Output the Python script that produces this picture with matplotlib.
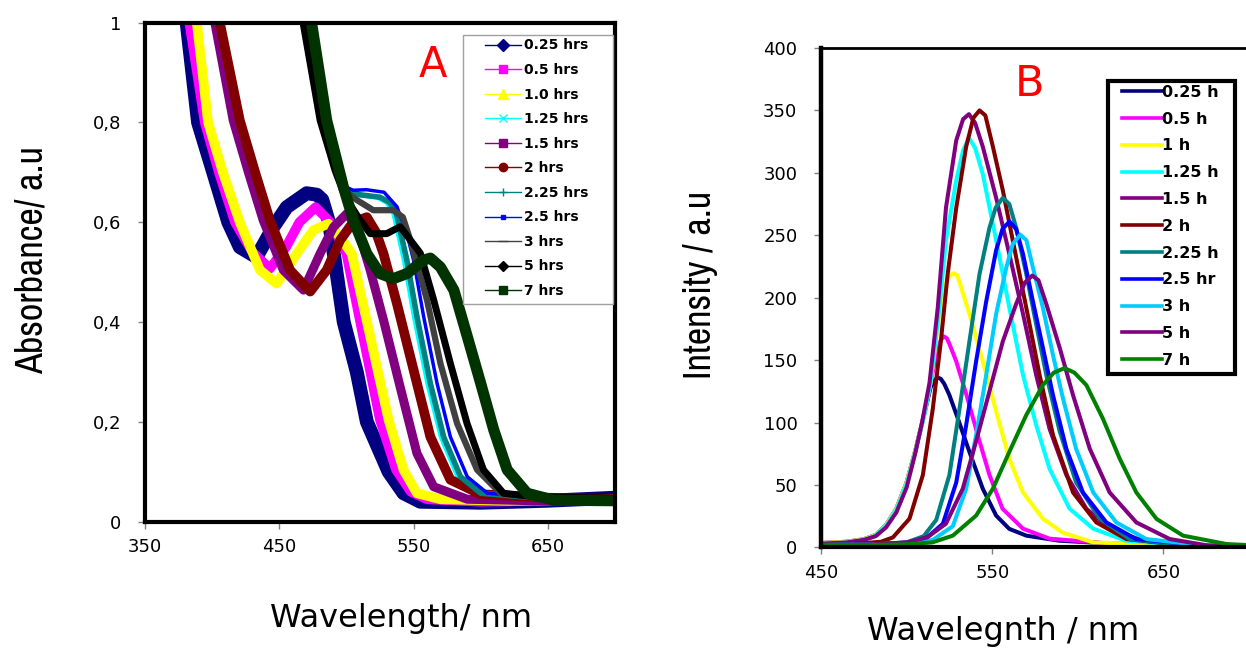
import matplotlib
matplotlib.use("Agg")
import matplotlib.pyplot as plt
from matplotlib.lines import Line2D
from matplotlib.patches import Rectangle
from matplotlib import font_manager

# ------------------------- data: panel A (absorbance) -------------------------
A_LABELS = ["0.25 hrs", "0.5 hrs", "1.0 hrs", "1.25 hrs", "1.5 hrs", "2 hrs",
            "2.25 hrs", "2.5 hrs", "3 hrs", "5 hrs", "7 hrs"]

a_wl_025 = [378, 381, 389.5, 400, 412, 420.6, 433, 445.5, 455.5, 470.4, 478, 482, 487, 491, 498,
            507.7, 515.2, 531.4, 542.5, 555, 600, 650, 700]
a_ab_025 = [1.05, 1.0, 0.80, 0.707, 0.60, 0.55, 0.53, 0.59, 0.63, 0.658, 0.655, 0.645, 0.60, 0.53, 0.40,
            0.30, 0.20, 0.10, 0.057, 0.04, 0.038, 0.042, 0.048]
a_wl_05 = [380, 383, 394.5, 405, 417, 430, 443, 455, 465, 477, 488, 500, 510, 525, 537, 548, 560, 600, 650, 700]
a_ab_05 = [1.04, 1.0, 0.80, 0.70, 0.60, 0.54, 0.507, 0.55, 0.60, 0.63, 0.60, 0.537, 0.404, 0.204, 0.104,
           0.06, 0.045, 0.04, 0.042, 0.045]
a_wl_10 = [385, 388.6, 397, 408, 420.6, 435.6, 448, 463, 475.4, 486.6, 495.3, 504, 515, 531.4, 542.5,
           552.5, 570, 620, 700]
a_ab_10 = [1.04, 1.0, 0.80, 0.70, 0.60, 0.504, 0.477, 0.537, 0.584, 0.597, 0.57, 0.537, 0.404, 0.204,
           0.104, 0.057, 0.045, 0.042, 0.045]
a_wl_125 = [465, 467, 481, 491, 499, 509, 523, 530, 535, 543, 550.5, 560.5, 570.5, 583, 598, 640, 700]
a_ab_125 = [1.04, 1.0, 0.80, 0.704, 0.665, 0.655, 0.65, 0.64, 0.62, 0.524, 0.411, 0.277, 0.17, 0.09,
            0.057, 0.048, 0.045]
a_wl_15 = [399, 402, 415.7, 427, 438, 453, 468, 480.4, 490.3, 500.3, 508, 517.7, 527.6, 540, 552.5,
           565, 590, 640, 700]
a_ab_15 = [1.04, 1.0, 0.804, 0.70, 0.604, 0.504, 0.464, 0.537, 0.59, 0.617, 0.59, 0.504, 0.404, 0.27,
           0.137, 0.07, 0.045, 0.042, 0.045]
a_wl_2 = [403, 405.7, 420.6, 432, 443, 458, 473, 485.3, 495.3, 505, 515.2, 522, 527.6, 537.6, 550,
          562.5, 577.4, 600, 650, 700]
a_ab_2 = [1.04, 1.0, 0.804, 0.70, 0.604, 0.504, 0.461, 0.504, 0.564, 0.60, 0.61, 0.58, 0.537, 0.437,
          0.304, 0.17, 0.084, 0.055, 0.048, 0.045]
a_wl_225 = [466, 468, 482, 492, 500, 510, 525, 532, 537, 545, 552.5, 562.5, 572.4, 585, 600, 640, 700]
a_ab_225 = [1.04, 1.0, 0.80, 0.704, 0.665, 0.655, 0.65, 0.64, 0.62, 0.524, 0.411, 0.277, 0.17, 0.09,
            0.057, 0.048, 0.045]
a_wl_25 = [467, 469, 482, 493, 500, 505, 515, 528, 537.6, 545, 550, 557.5, 567.5, 577.4, 590, 605, 640, 700]
a_ab_25 = [1.04, 1.0, 0.80, 0.704, 0.67, 0.664, 0.665, 0.66, 0.631, 0.577, 0.524, 0.411, 0.277, 0.17,
           0.09, 0.057, 0.05, 0.048]
a_wl_3 = [466, 468, 482, 492, 500, 508, 520, 535, 542, 547.5, 560, 570, 582.4, 597.3, 614.7, 640, 700]
a_ab_3 = [1.04, 1.0, 0.80, 0.704, 0.66, 0.644, 0.624, 0.624, 0.61, 0.565, 0.444, 0.317, 0.197, 0.104,
          0.057, 0.05, 0.047]
a_wl_5 = [466, 467.7, 480.4, 491.5, 499, 510.2, 517.7, 530, 540, 555, 565, 577.4, 589.8, 602, 617, 640, 700]
a_ab_5 = [1.04, 1.0, 0.804, 0.704, 0.651, 0.604, 0.577, 0.577, 0.591, 0.538, 0.444, 0.317, 0.197,
          0.104, 0.057, 0.05, 0.047]
a_wl_7 = [471, 474, 485.3, 497.8, 505.2, 515.2, 525, 535, 545, 557.5, 562.5, 570, 580, 590, 600, 609.7,
          619.7, 634.6, 654.5, 700]
a_ab_7 = [1.04, 1.0, 0.804, 0.67, 0.604, 0.537, 0.497, 0.487, 0.497, 0.524, 0.528, 0.51, 0.464, 0.371,
          0.277, 0.184, 0.104, 0.057, 0.043, 0.042]

A_X_TICKS = [350, 450, 550, 650]
A_Y_TICKS = [0, 0.2, 0.4, 0.6, 0.8, 1.0]
A_Y_TICKLABELS = ["0", "0,2", "0,4", "0,6", "0,8", "1"]

# ------------------------- data: panel B (emission) -------------------------
B_LABELS = ["0.25 h", "0.5 h", "1 h", "1.25 h", "1.5 h", "2 h", "2.25 h", "2.5 hr", "3 h", "5 h", "7 h"]

b_wl_025 = [450, 465, 475, 482, 488, 494, 500, 505, 510, 514, 516.5, 518.2, 520, 522, 525, 530, 536.7,
            544.5, 552.3, 560, 570, 589, 620, 660, 700]
b_in_025 = [3.5, 4.5, 6.5, 10, 18, 31, 52, 77, 105, 128, 134, 136, 135, 131, 122, 103, 76.5, 47, 25.5,
            14.8, 9.4, 5.4, 3, 2, 1.5]
b_wl_05 = [450, 465, 475, 482, 488, 494, 500, 505, 510, 514, 518, 520, 521.7, 523.5, 525, 529, 535, 542.6,
           548.4, 556, 568, 583.5, 620, 660, 700]
b_in_05 = [3.5, 4.5, 6.5, 10, 18, 31, 52, 77, 105, 132, 158, 166, 169, 167.5, 163, 149, 122, 85, 58, 31,
           15, 7, 3, 2, 1.5]
b_wl_1 = [450, 465, 475, 482, 488, 494, 500, 505, 510, 514, 519, 523, 525.5, 527.6, 529.5, 531, 536.7,
          544.5, 552.3, 560, 568, 579.6, 591, 609, 650, 700]
b_in_1 = [3.5, 4.5, 6.5, 10, 18, 31, 52, 77, 105, 132, 185, 212, 218, 219.6, 218, 212, 187, 149, 109, 71,
          44, 23, 12, 4, 2, 1.5]
b_wl_125 = [450, 465, 475, 482, 488, 494, 500, 505, 510, 514, 519.2, 523, 529, 533, 536.4, 540, 544.5,
            552.3, 560, 568, 575.7, 583.5, 595.2, 609, 628, 660, 700]
b_in_125 = [3, 4, 6, 9.5, 17.5, 30, 51, 76, 104, 132, 192, 246, 294, 318, 328, 320, 299, 246, 192, 138,
            98, 63, 31, 15, 5.4, 2, 1]
b_wl_15 = [450, 465, 475, 482, 488, 494, 500, 505, 509, 513.4, 518.2, 523, 529, 533, 536.4, 540, 544.5,
           552.3, 560, 568, 575.7, 583.5, 593.3, 605, 618.6, 638, 670, 700]
b_in_15 = [3, 4, 6, 9, 16, 28, 48, 75, 100, 132, 192, 272, 326, 343, 347, 340, 321, 280, 235, 187, 138,
           95, 58, 31, 15, 5.4, 2, 1]
b_wl_2 = [450, 470, 485, 492, 501.7, 509.5, 515.3, 520, 524, 529, 534.8, 539, 542.6, 546, 550.4, 556.2,
          562, 569.9, 577.7, 585.5, 597.2, 610.8, 628.4, 660, 700]
b_in_2 = [2.5, 3, 4.5, 8, 23, 58, 111, 165, 219, 272, 321, 344, 350, 346, 321, 286, 246, 192, 138, 90,
          44, 20, 6.7, 2, 1]
b_wl_225 = [450, 480, 500, 510, 517.3, 525, 530.9, 536.7, 542.6, 548.4, 552, 556.2, 560, 564, 569.9,
            575.7, 581.6, 589.4, 599, 612.8, 630.3, 660, 700]
b_in_225 = [2, 2.5, 4, 9, 22, 58, 111, 165, 219, 256, 272, 280, 275, 256, 219, 178.5, 138, 93, 52, 23,
            6.7, 2, 1]
b_wl_25 = [450, 480, 503, 512, 521.2, 529, 534.8, 540.6, 546.5, 552.3, 556, 560.1, 564, 568, 573.8,
           579.6, 585.5, 593.3, 603, 616.7, 634, 670, 700]
b_in_25 = [2, 2.5, 4, 8, 19, 52, 98, 149, 197, 238, 255, 261, 255, 235, 197, 160, 122, 79, 44, 20, 6.7,
           2, 1]
b_wl_3 = [450, 480, 505, 515.3, 527, 534.8, 540.6, 546.5, 552.3, 558.2, 562, 566.4, 570, 573.8, 579.6,
          585.5, 591.3, 599, 609, 622.5, 640, 670, 700]
b_in_3 = [2, 2.5, 3.5, 6, 17, 47, 90, 138, 187, 224, 243, 250.5, 246, 224, 192, 154, 119.5, 79, 44, 20,
          6.7, 2, 1]
b_wl_5 = [450, 480, 500, 512, 523, 532.8, 540.6, 548.4, 556.2, 564, 569, 573.4, 577, 581.6, 589.4, 597.2,
          607, 618.6, 634.2, 653.7, 677, 700]
b_in_5 = [2, 2.5, 4, 8, 19, 47, 85, 125, 165, 195, 212, 217.7, 214, 195, 160, 122, 79, 44, 20, 6.7, 1.3,
          0.8]
b_wl_7 = [450, 480, 500, 515, 527, 540.6, 550.4, 560, 569.9, 579.6, 586, 592.3, 598, 605, 614.7, 624.5,
          634.2, 646, 661.5, 686.8, 700]
b_in_7 = [2, 2, 2.5, 4, 9.4, 25.5, 47, 76.5, 106, 130, 140, 143.6, 140, 130, 103, 71, 44, 22.8, 9.4,
          2.7, 1.8]

B_X_TICKS = [450, 550, 650]
B_Y_TICKS = [0, 50, 100, 150, 200, 250, 300, 350, 400]

# ------------------------- style -------------------------
A_COLORS = ["#000080", "#FF00FF", "#FFFF00", "#00FFFF", "#800080", "#800000",
            "#008080", "#0000FF", "#404040", "#000000", "#003300"]
A_MARKERS = ["D", "s", "^", "x", "s", "o", "+", "s", "_", "D", "s"]
A_MSIZE = [6, 6, 7, 6, 6, 6, 6, 3, 7, 5, 6]
A_WIDTHS = [10, 7, 7, 3.5, 6.5, 7, 4, 2.5, 4.5, 5, 8]

B_COLORS = ["#000080", "#FF00FF", "#FFFF00", "#00FFFF", "#800080", "#800000",
            "#008080", "#0000FF", "#00CCFF", "#800080", "#008000"]

# condensed face for the vertical titles if one is installed
narrow_path = None
for f in font_manager.fontManager.ttflist:
    if "Narrow" in f.name or "Condensed" in f.fname and f.name in ("Liberation Sans", "DejaVu Sans"):
        if f.weight in (400, "normal", "regular") and f.style == "normal":
            narrow_path = f.fname
            if "Narrow" in f.name:
                break
if narrow_path:
    YLAB_FONT = dict(fontproperties=font_manager.FontProperties(fname=narrow_path, size=27.5))
else:
    YLAB_FONT = dict(family="Liberation Sans", fontsize=23)
WIDE = "DejaVu Sans"

W, H = 1246, 648
fig = plt.figure(figsize=(W / 100, H / 100), dpi=100)


def px_axes(left, right, top, bottom):
    return [left / W, 1 - bottom / H, (right - left) / W, (bottom - top) / H]


axA = fig.add_axes(px_axes(145, 615, 22.5, 521.7))
axB = fig.add_axes(px_axes(821, 1249, 48, 547.4))

# ---- panel A ----
a_series = [(a_wl_025, a_ab_025), (a_wl_05, a_ab_05), (a_wl_10, a_ab_10), (a_wl_125, a_ab_125),
            (a_wl_15, a_ab_15), (a_wl_2, a_ab_2), (a_wl_225, a_ab_225), (a_wl_25, a_ab_25),
            (a_wl_3, a_ab_3), (a_wl_5, a_ab_5), (a_wl_7, a_ab_7)]
for (x, y), c, lw in zip(a_series, A_COLORS, A_WIDTHS):
    axA.plot(x, y, color=c, lw=lw, solid_capstyle="round", solid_joinstyle="round", zorder=2)

axA.set_xlim(350, 700)
axA.set_ylim(0, 1)
axA.set_xticks(A_X_TICKS)
axA.set_yticks(A_Y_TICKS)
axA.set_yticklabels(A_Y_TICKLABELS)

# ---- panel B ----
b_series = [(b_wl_025, b_in_025), (b_wl_05, b_in_05), (b_wl_1, b_in_1), (b_wl_125, b_in_125),
            (b_wl_15, b_in_15), (b_wl_2, b_in_2), (b_wl_225, b_in_225), (b_wl_25, b_in_25),
            (b_wl_3, b_in_3), (b_wl_5, b_in_5), (b_wl_7, b_in_7)]
for (x, y), c in zip(b_series, B_COLORS):
    axB.plot(x, y, color=c, lw=2.9, solid_joinstyle="round", zorder=2)

axB.set_xlim(450, 700)
axB.set_ylim(0, 400)
axB.set_xticks(B_X_TICKS)
axB.set_yticks(B_Y_TICKS)

for ax in (axA, axB):
    ax.tick_params(direction="out", length=5, width=1, color="#808080", labelsize=13, pad=7)
    ax.tick_params(axis="y", pad=12)
    for lab in ax.get_xticklabels() + ax.get_yticklabels():
        lab.set_family(WIDE)
for s in axA.spines.values():
    s.set_linewidth(3)
axB.spines["left"].set_linewidth(3.2)
axB.spines["bottom"].set_linewidth(3)
axB.spines["top"].set_linewidth(2)
axB.spines["right"].set_visible(False)

# axis labels
axA.set_ylabel("Absorbance/ a.u", **YLAB_FONT)
axA.yaxis.set_label_coords(-0.2026, 0.524)
axA.set_xlabel("Wavelength/ nm", family=WIDE, fontsize=23)
axA.xaxis.set_label_coords(0.544, -0.163)
axB.set_ylabel("Intensity / a.u", **YLAB_FONT)
axB.yaxis.set_label_coords(-0.2407, 0.525)
axB.set_xlabel("Wavelegnth / nm", family=WIDE, fontsize=23)
axB.xaxis.set_label_coords(0.425, -0.137)

axA.text(0.612, 0.915, "A", transform=axA.transAxes, color="red", fontsize=30,
         family=WIDE, ha="center", va="center")
axB.text(0.488, 0.928, "B", transform=axB.transAxes, color="red", fontsize=31,
         family=WIDE, ha="center", va="center")

# ---- legend A ----
axA.add_patch(Rectangle((0.6774, 0.4363), 0.9952 - 0.6774, 0.9753 - 0.4363, transform=axA.transAxes,
                        facecolor="white", edgecolor="#A0A0A0", lw=1, zorder=5))
handlesA = [Line2D([], [], color=c, lw=1, marker=m, ms=ms, markerfacecolor=c, markeredgecolor=c)
            for c, m, ms in zip(A_COLORS, A_MARKERS, A_MSIZE)]
legA = axA.legend(handlesA, A_LABELS, loc="upper left", bbox_to_anchor=(0.7228, 0.968),
                  frameon=False, borderpad=0, borderaxespad=0, handlelength=2.6,
                  handletextpad=0.2, labelspacing=0.76,
                  prop={"family": WIDE, "weight": "bold", "size": 10})
legA.set_zorder(6)

# ---- legend B ----
axB.add_patch(Rectangle((0.6706, 0.3472), 0.9673 - 0.6706, 0.9339 - 0.3472, transform=axB.transAxes,
                        facecolor="white", edgecolor="black", lw=3, zorder=5))
handlesB = [Line2D([], [], color=c, lw=2.6) for c in B_COLORS]
legB = axB.legend(handlesB, B_LABELS, loc="upper left", bbox_to_anchor=(0.7026, 0.9265),
                  frameon=False, borderpad=0, borderaxespad=0, handlelength=2.5,
                  handletextpad=0.05, labelspacing=0.74,
                  prop={"family": WIDE, "weight": "bold", "size": 11.5})
legB.set_zorder(6)

fig.savefig("out.png", dpi=100)
